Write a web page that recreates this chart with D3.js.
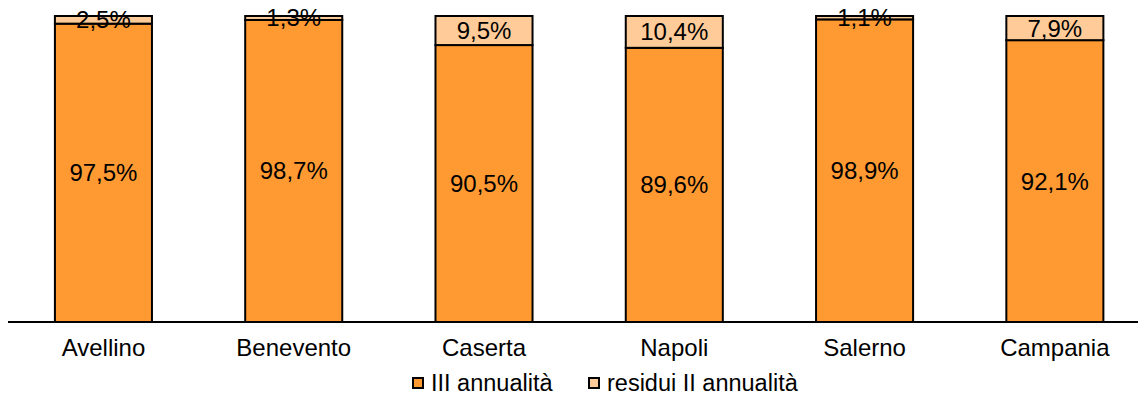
<!DOCTYPE html>
<html><head><meta charset="utf-8">
<script src="https://cdn.jsdelivr.net/npm/d3@7"></script>
<style>body{margin:0;background:#fff;}svg{display:block;font-family:"Liberation Sans",Arial,sans-serif;}</style>
</head><body><svg width="1138" height="396"></svg>
<script>
const categories = ["Avellino","Benevento","Caserta","Napoli","Salerno","Campania"];
const seriesNames = ["III annualità","residui II annualità"];
const annualita3 = [97.5,98.7,90.5,89.6,98.9,92.1];
const residui2 = [2.5,1.3,9.5,10.4,1.1,7.9];
const colors = ["#FF9A33","#FFCC99"];

const svg = d3.select("svg");
const x = d3.scaleBand().domain(categories).range([8.3,1150]).paddingInner(0.49).paddingOuter(0.245);
const y = d3.scaleLinear().domain([0,100]).range([322,16]);

const data = categories.map((c,i)=>({cat:c, vals:[annualita3[i], residui2[i]]}));
const g = svg.append("g");
data.forEach(d=>{
  let acc=0;
  d.vals.forEach((v,k)=>{
    const y0=acc, y1=acc+v; acc=y1;
    g.append("rect").attr("x",x(d.cat)).attr("width",x.bandwidth())
      .attr("y",y(y1)).attr("height",y(y0)-y(y1))
      .attr("fill",colors[k]).attr("stroke","#000").attr("stroke-width",2);
    g.append("text").attr("x",x(d.cat)+x.bandwidth()/2).attr("y",(y(y0)+y(y1))/2)
      .attr("text-anchor","middle").attr("dominant-baseline","central")
      .attr("font-size",24).attr("fill","#000")
      .text(String(v.toFixed(1)).replace(".",",")+"%");
  });
});

// axis
const ax = svg.append("g").attr("transform","translate(0,322)").call(d3.axisBottom(x).tickSize(0).tickPadding(17));
ax.select(".domain").attr("stroke","#000").attr("stroke-width",2).attr("d","M8,0H1138");
ax.selectAll("text").attr("font-size",24).attr("fill","#000").attr("font-family","Liberation Sans, Arial, sans-serif");

// legend
const leg = svg.append("g");
const legX = [413, 589];
seriesNames.forEach((n,k)=>{
  leg.append("rect").attr("x",legX[k]).attr("y",378).attr("width",10).attr("height",10)
    .attr("fill",colors[k]).attr("stroke","#000").attr("stroke-width",2);
  leg.append("text").attr("x",legX[k]+18).attr("y",383).attr("dominant-baseline","central")
    .attr("font-size",23.5).attr("fill","#000").text(n);
});
</script></body></html>
